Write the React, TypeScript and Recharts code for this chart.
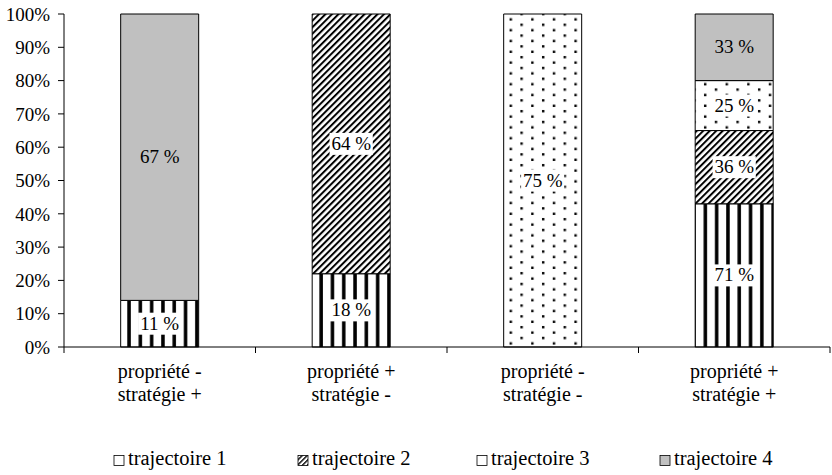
import { BarChart, Bar, XAxis, YAxis, LabelList, Legend } from "recharts";

const categories = [
  ["propriété -", "stratégie +"],
  ["propriété +", "stratégie -"],
  ["propriété -", "stratégie -"],
  ["propriété +", "stratégie +"],
];

// share of each trajectory in the column (stack heights)
const trajectoire1 = [14, 22, 0, 43];
const trajectoire2 = [0, 78, 0, 22];
const trajectoire3 = [0, 0, 100, 15];
const trajectoire4 = [86, 0, 0, 20];

// percentages written inside the segments
const label1 = [11, 18, null, 71];
const label2 = [null, 64, null, 36];
const label3 = [null, null, 75, 25];
const label4 = [67, null, null, 33];

const yTicks = [0, 10, 20, 30, 40, 50, 60, 70, 80, 90, 100];

const seriesNames = ["trajectoire 1", "trajectoire 2", "trajectoire 3", "trajectoire 4"];

const data = categories.map((c, i) => ({
  name: c.join(" "),
  t1: trajectoire1[i],
  t2: trajectoire2[i],
  t3: trajectoire3[i],
  t4: trajectoire4[i],
  l1: label1[i],
  l2: label2[i],
  l3: label3[i],
  l4: label4[i],
}));

const font = "'Liberation Serif', 'Times New Roman', serif";
const W = 832;
const H = 475;
const yAxisW = 64;
const rightM = 2;
const band = (W - yAxisW - rightM) / categories.length;

const fills = ["url(#vstripes)", "url(#diag)", "url(#dots)", "#c0c0c0"];
// the legend keys are drawn too small for the stripes and dots to show
const legendFills = ["#fff", "url(#diagSmall)", "#fff", "#c0c0c0"];

const renderLabel = (bg: boolean) => (props: any) => {
  const { value } = props;
  if (value == null) return null;
  const vb = props.viewBox && props.viewBox.width != null ? props.viewBox : props;
  const cx = vb.x + vb.width / 2;
  const cy = vb.y + vb.height / 2;
  const text = `${value} %`;
  const tw = text.length * 9.8;
  return (
    <g>
      {bg && <rect x={cx - tw / 2 - 2} y={cy - 11} width={tw + 4} height={22} fill="#fff" />}
      <text x={cx} y={cy + 6} textAnchor="middle" fontSize={19} fontFamily={font} fill="#000">
        {text}
      </text>
    </g>
  );
};

const CategoryTick = (props: any) => {
  const { x, y, index } = props;
  const lines = categories[index] || [];
  const axisY = y - 8;
  return (
    <g>
      <line x1={x - band / 2} x2={x - band / 2} y1={axisY} y2={axisY + 6} stroke="#000" />
      {index === categories.length - 1 && (
        <line x1={x + band / 2} x2={x + band / 2} y1={axisY} y2={axisY + 6} stroke="#000" />
      )}
      {lines.map((l, i) => (
        <text
          key={i}
          x={x}
          y={axisY + 31 + i * 23}
          textAnchor="middle"
          fontSize={20}
          fontFamily={font}
          fill="#000"
        >
          {l}
        </text>
      ))}
    </g>
  );
};

const legendX = [114, 298, 477, 660];

const LegendContent = () => (
  <svg width={W} height={40} style={{ display: "block" }}>
    <defs>
      <pattern id="diagSmall" patternUnits="userSpaceOnUse" width={3.5} height={3.5} patternTransform="rotate(45)">
        <rect width={3.5} height={3.5} fill="#fff" />
        <rect width={1.4} height={3.5} fill="#000" />
      </pattern>
    </defs>
    {seriesNames.map((n, i) => (
      <g key={n}>
        <rect
          x={legendX[i]}
          y={20.5}
          width={10}
          height={10}
          fill={legendFills[i]}
          stroke="#000"
          strokeWidth={0.8}
        />
        <text x={legendX[i] + 14} y={30} fontSize={20.5} fontFamily={font} fill="#000">
          {n}
        </text>
      </g>
    ))}
  </svg>
);

export default function App() {
  return (
    <div style={{ position: "absolute", left: 0, top: 0, width: W, height: H, background: "#fff" }}>
      <BarChart
        width={W}
        height={H}
        data={data}
        margin={{ top: 14, right: rightM, bottom: 0, left: 0 }}
        barCategoryGap="29.6%"
      >
        <defs>
          <pattern id="vstripes" patternUnits="userSpaceOnUse" width={11.3} height={10}>
            <rect width={11.3} height={10} fill="#fff" />
            <rect x={3} width={3.5} height={10} fill="#000" />
          </pattern>
          <pattern
            id="diag"
            patternUnits="userSpaceOnUse"
            width={4.6}
            height={4.6}
            patternTransform="rotate(45)"
          >
            <rect width={4.6} height={4.6} fill="#fff" />
            <rect width={2} height={4.6} fill="#000" />
          </pattern>
          <pattern id="dots" patternUnits="userSpaceOnUse" width={21.6} height={10.8}>
            <rect width={21.6} height={10.8} fill="#fff" />
            <rect x={2} y={2} width={2.4} height={2.4} fill="#000" />
            <rect x={12.8} y={7.4} width={2.4} height={2.4} fill="#000" />
          </pattern>
        </defs>
        <XAxis
          dataKey="name"
          interval={0}
          tickLine={false}
          axisLine={{ stroke: "#000" }}
          tick={<CategoryTick />}
          height={88}
        />
        <YAxis
          width={yAxisW}
          domain={[0, 100]}
          ticks={yTicks}
          interval={0}
          tickFormatter={(v: number) => `${v}%`}
          axisLine={{ stroke: "#000" }}
          tickLine={{ stroke: "#000" }}
          tickSize={6}
          tickMargin={8}
          tick={{ fontSize: 19, fontFamily: font, fill: "#000" }}
        />
        <Legend
          verticalAlign="bottom"
          align="left"
          content={<LegendContent />}
          wrapperStyle={{ left: 0, width: W, height: 40 }}
        />
        <Bar dataKey="t1" stackId="a" fill={fills[0]} stroke="#000" strokeWidth={1} isAnimationActive={false}>
          <LabelList dataKey="l1" content={renderLabel(true)} />
        </Bar>
        <Bar dataKey="t2" stackId="a" fill={fills[1]} stroke="#000" strokeWidth={1} isAnimationActive={false}>
          <LabelList dataKey="l2" content={renderLabel(true)} />
        </Bar>
        <Bar dataKey="t3" stackId="a" fill={fills[2]} stroke="#000" strokeWidth={1} isAnimationActive={false}>
          <LabelList dataKey="l3" content={renderLabel(true)} />
        </Bar>
        <Bar dataKey="t4" stackId="a" fill={fills[3]} stroke="#000" strokeWidth={1} isAnimationActive={false}>
          <LabelList dataKey="l4" content={renderLabel(false)} />
        </Bar>
      </BarChart>
    </div>
  );
}
